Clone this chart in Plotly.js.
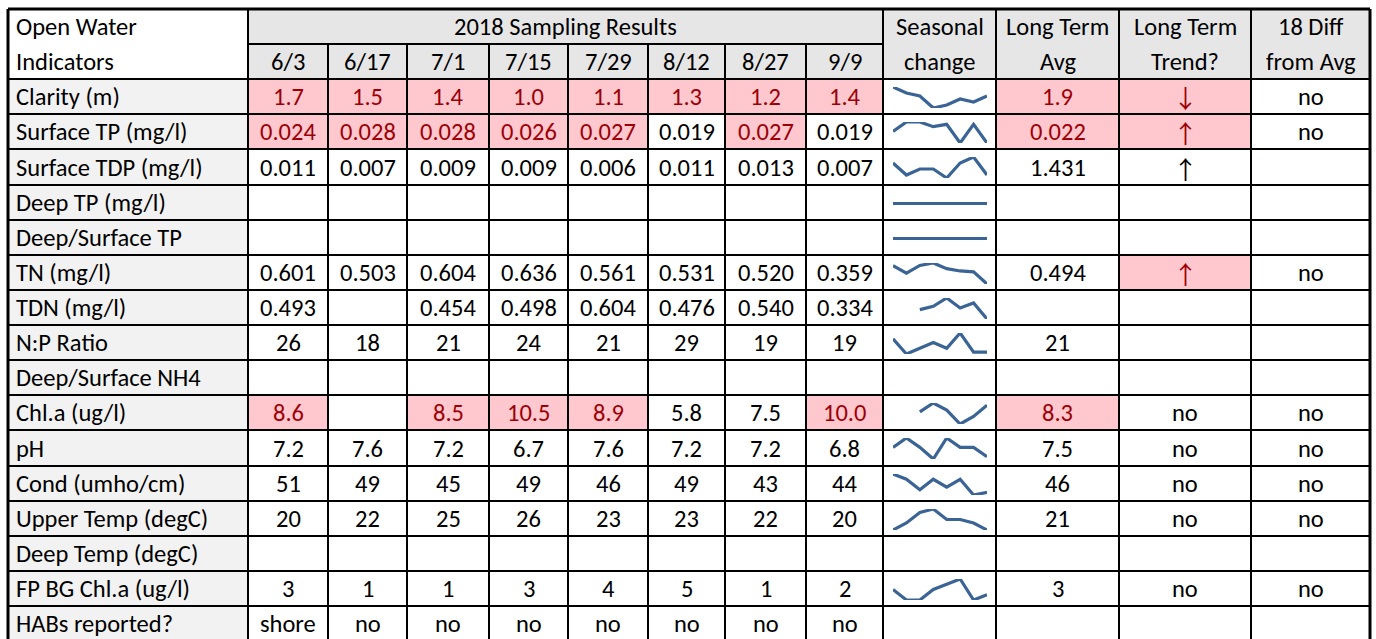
<!DOCTYPE html>
<html>
<head>
<meta charset="utf-8">
<script src="https://cdn.plot.ly/plotly-3.0.1.min.js"></script>
<style>html,body{margin:0;padding:0;background:#fff;}#chart{width:1376px;height:639px;}</style>
</head>
<body>
<div id="chart"></div>
<script>
// ---------- DATA ----------
const dates = ['6/3','6/17','7/1','7/15','7/29','8/12','8/27','9/9'];
const indicators = ['Clarity (m)','Surface TP (mg/l)','Surface TDP (mg/l)','Deep TP (mg/l)','Deep/Surface TP','TN (mg/l)','TDN (mg/l)','N:P Ratio','Deep/Surface NH4','Chl.a (ug/l)','pH','Cond (umho/cm)','Upper Temp (degC)','Deep Temp (degC)','FP BG Chl.a (ug/l)','HABs reported?'];
const N = null;
const clarity    = [1.7,1.5,1.4,1.0,1.1,1.3,1.2,1.4];
const surfaceTP  = [0.024,0.028,0.028,0.026,0.027,0.019,0.027,0.019];
const surfaceTDP = [0.011,0.007,0.009,0.009,0.006,0.011,0.013,0.007];
const deepTP     = [N,N,N,N,N,N,N,N];
const deepSurfTP = [N,N,N,N,N,N,N,N];
const tn         = [0.601,0.503,0.604,0.636,0.561,0.531,0.520,0.359];
const tdn        = [0.493,N,0.454,0.498,0.604,0.476,0.540,0.334];
const npRatio    = [26,18,21,24,21,29,19,19];
const deepSurfNH4= [N,N,N,N,N,N,N,N];
const chla       = [8.6,N,8.5,10.5,8.9,5.8,7.5,10.0];
const ph         = [7.2,7.6,7.2,6.7,7.6,7.2,7.2,6.8];
const cond       = [51,49,45,49,46,49,43,44];
const upperTemp  = [20,22,25,26,23,23,22,20];
const deepTemp   = [N,N,N,N,N,N,N,N];
const fpbgChla   = [3,1,1,3,4,5,1,2];
const habs       = ['shore','no','no','no','no','no','no','no'];
const decimals   = [1,3,3,3,3,3,3,0,3,1,1,0,0,0,0,0];
const longTermAvg   = ['1.9','0.022','1.431','','','0.494','','21','','8.3','7.5','46','21','','3',''];
const longTermTrend = ['\u2193','\u2191','\u2191','','','\u2191','','','','no','no','no','no','','no',''];
const diffFromAvg   = ['no','no','','','','no','','','','no','no','no','no','','no',''];
// sparkline: which rows have one; flat rows have hidden zero values
const sparkRows  = [0,1,2,3,4,5,6,7,9,10,11,12,14];
const flatRows   = [3,4];
// highlighted (pink) cells
const hlDates = {0:[0,1,2,3,4,5,6,7], 1:[0,1,2,3,4,6], 9:[0,2,3,4,7]};
const hlAvg = [0,1,9];
const hlTrend = [0,1,5];

const rowsData = [clarity,surfaceTP,surfaceTDP,deepTP,deepSurfTP,tn,tdn,npRatio,deepSurfNH4,chla,ph,cond,upperTemp,deepTemp,fpbgChla,habs];

// ---------- LAYOUT GEOMETRY ----------
const W = 1376, H = 639;
const colX = [8,248,328,407,489,568,648,725,806,883,996,1119,1251,1370];
const top0 = 9, rowH = 35.12;
const rowY = k => Math.round(top0 + rowH*k);
const FONT = 'Carlito, Lato, sans-serif';
const FS = 24.5;
const PINK = '#ffc7ce', RED = '#9c0006', GRAY = '#e6e6e6', LGRAY = '#f2f2f2';

const shapes = [];
const annotations = [];
function rect(x0,x1,y0,y1,fill){shapes.push({type:'rect',xref:'x',yref:'y',x0,x1,y0,y1,fillcolor:fill,line:{width:0},layer:'below'});}
function line(x0,y0,x1,y1,w){shapes.push({type:'line',xref:'x',yref:'y',x0,y0,x1,y1,line:{color:'#000',width:w||2},layer:'above'});}
function text(t,x,y,opts){
  opts = opts||{};
  annotations.push({text:t,x,y,xref:'x',yref:'y',showarrow:false,xanchor:opts.anchor||'center',yanchor:'middle',
    font:{family:opts.family||FONT,size:opts.size||FS,color:opts.color||'#000'}});
}
const cx = c => (colX[c]+colX[c+1])/2;
const cy = k => (rowY(k)+rowY(k+1))/2 + 0.5;

// fills
rect(colX[1],colX[13],rowY(0),rowY(2),GRAY);
rect(colX[0],colX[1],rowY(2),rowY(18),LGRAY);
Object.keys(hlDates).forEach(r=>{ hlDates[r].forEach(d=>rect(colX[d+1],colX[d+2],rowY(+r+2),rowY(+r+3),PINK)); });
hlAvg.forEach(r=>rect(colX[10],colX[11],rowY(r+2),rowY(r+3),PINK));
hlTrend.forEach(r=>rect(colX[11],colX[12],rowY(r+2),rowY(r+3),PINK));

// grid lines
line(colX[0],rowY(0),colX[13],rowY(0),3);
line(colX[1],rowY(1),colX[9],rowY(1),2);
for(let k=2;k<=18;k++) line(colX[0],rowY(k),colX[13],rowY(k),2);
line(colX[0],rowY(0),colX[0],rowY(18),3);
line(colX[13],rowY(0),colX[13],rowY(18),3);
[1,9,10,11,12].forEach(c=>line(colX[c],rowY(0),colX[c],rowY(18),2));
for(let c=2;c<=8;c++) line(colX[c],rowY(1),colX[c],rowY(18),2);

// header text
text('Open Water',colX[0]+6,cy(0),{anchor:'left'});
text('Indicators',colX[0]+6,cy(1),{anchor:'left'});
text('2018 Sampling Results',(colX[1]+colX[9])/2,cy(0));
dates.forEach((d,i)=>text(d,cx(i+1),cy(1)));
[['Seasonal','change'],['Long Term','Avg'],['Long Term','Trend?'],['18 Diff','from Avg']].forEach((p,i)=>{
  text(p[0],cx(9+i),cy(0)); text(p[1],cx(9+i),cy(1));
});

// body text
indicators.forEach((name,r)=>{
  const k = r+2;
  text(name,colX[0]+6,cy(k),{anchor:'left'});
  const vals = rowsData[r];
  vals.forEach((v,i)=>{
    if(v===null||v===undefined) return;
    const s = typeof v==='number' ? v.toFixed(decimals[r]) : v;
    const hl = hlDates[r] && hlDates[r].indexOf(i)>=0;
    text(s,cx(i+1),cy(k),{color:hl?RED:'#000'});
  });
  if(longTermAvg[r]) text(longTermAvg[r],cx(10),cy(k),{color:hlAvg.indexOf(r)>=0?RED:'#000'});
  if(longTermTrend[r]){
    const isArrow = longTermTrend[r]!=='no';
    text(longTermTrend[r],cx(11),cy(k),{color:hlTrend.indexOf(r)>=0?RED:'#000',family:isArrow?'Noto Sans CJK JP, DejaVu Sans':FONT,size:isArrow?25:FS});
  }
  if(diffFromAvg[r]) text(diffFromAvg[r],cx(12),cy(k));
});

// ---------- SPARKLINES ----------
const traces = [{x:[0,W],y:[0,H],mode:'markers',marker:{opacity:0},hoverinfo:'skip',showlegend:false,xaxis:'x',yaxis:'y'}];
const layout = {
  width:W,height:H,margin:{l:0,r:0,t:0,b:0},paper_bgcolor:'#fff',plot_bgcolor:'rgba(0,0,0,0)',showlegend:false,
  xaxis:{range:[0,W],visible:false,domain:[0,1],fixedrange:true},
  yaxis:{range:[H,0],visible:false,domain:[0,1],fixedrange:true},
  shapes,annotations
};
const sx0 = 893, sx1 = 987;
sparkRows.forEach((r,j)=>{
  const n = j+2;
  const isFlat = flatRows.indexOf(r)>=0;
  const ys = isFlat ? rowsData[r].map(()=>0) : rowsData[r];
  const nums = ys.filter(v=>v!==null);
  let lo = Math.min(...nums), hi = Math.max(...nums);
  if(hi===lo){lo-=1;hi+=1;}
  const t = rowY(r+2)+8, b = rowY(r+2)+29;
  layout['xaxis'+n] = {domain:[sx0/W,sx1/W],range:[0,dates.length-1],visible:false,fixedrange:true,anchor:'y'+n};
  layout['yaxis'+n] = {domain:[1-b/H,1-t/H],range:[lo,hi],visible:false,fixedrange:true,anchor:'x'+n};
  traces.push({x:dates.map((d,i)=>i),y:ys,mode:'lines',connectgaps:false,line:{color:'#3a6496',width:3.2},
    hoverinfo:'skip',showlegend:false,xaxis:'x'+n,yaxis:'y'+n,cliponaxis:false});
});

Plotly.newPlot('chart',traces,layout,{staticPlot:true,displayModeBar:false});
</script>
</body>
</html>
